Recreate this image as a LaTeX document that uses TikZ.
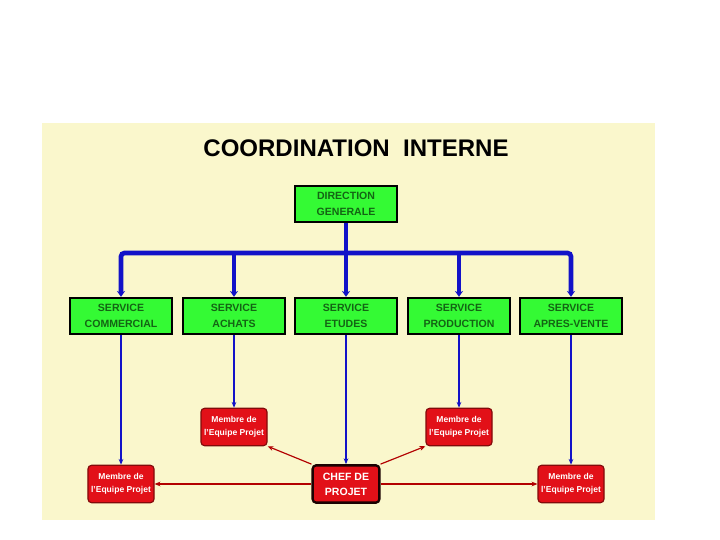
\documentclass[tikz,border=0pt]{standalone}
\usepackage{fontspec}
\setmainfont{Liberation Sans}
\usetikzlibrary{arrows.meta, positioning}
\definecolor{panelyellow}{RGB}{250,247,204}
\definecolor{servgreen}{RGB}{52,250,52}
\definecolor{servtext}{RGB}{20,100,20}
\definecolor{busblue}{RGB}{18,18,200}
\definecolor{teamred}{RGB}{226,16,24}
\definecolor{teamedge}{RGB}{130,10,10}

\begin{document}
\begin{tikzpicture}[x=0.03cm, y=-0.03cm,
  service/.style={draw=black, line width=1.5pt, fill=servgreen, text=servtext,
    minimum width=3.08cm, minimum height=1.1cm, align=center,
    font=\fontsize{9}{13.5}\selectfont\bfseries, inner sep=1pt},
  member/.style={draw=teamedge, line width=1pt, fill=teamred, text=white,
    rounded corners=3pt, minimum width=1.98cm, minimum height=1.12cm, align=center,
    font=\fontsize{7.3}{11.5}\selectfont\bfseries, inner sep=1pt},
  chefbox/.style={member, line width=2pt, draw=black!80!teamedge,
    minimum width=2.0cm, font=\fontsize{9}{13}\selectfont\bfseries},
  bus/.style={draw=busblue, line width=4pt},
  link/.style={draw=busblue, line width=0.9pt, -{Stealth[length=5pt,width=4pt]}},
  team/.style={draw=red!70!black, line width=1pt, -{Stealth[length=5pt,width=4pt]}}]
  \useasboundingbox (0,0) rectangle (720,540);
  \fill[panelyellow] (42,123) rectangle (655,520);
  \node[font=\fontsize{20.5}{22}\selectfont\bfseries] (title) at (356,148)
    {COORDINATION\ \ INTERNE};
  % direction et services
  \node[service] (dg) at (346,204) {DIRECTION\\GENERALE};
  \node[service] (com) at (121,316) {SERVICE\\COMMERCIAL};
  \node[service] (ach) at (234,316) {SERVICE\\ACHATS};
  \node[service] (etu) at (346,316) {SERVICE\\ETUDES};
  \node[service] (pro) at (459,316) {SERVICE\\PRODUCTION};
  \node[service] (apv) at (571,316) {SERVICE\\APRES-VENTE};
  % equipe projet
  \node[member] (mb2) at (234,427) {Membre de\\l'Equipe Projet};
  \node[member] (mb3) at (459,427) {Membre de\\l'Equipe Projet};
  \node[member] (mb1) at (121,484) {Membre de\\l'Equipe Projet};
  \node[member] (mb4) at (571,484) {Membre de\\l'Equipe Projet};
  \node[chefbox] (chef) at (346,484) {CHEF DE\\PROJET};
  % liaisons hierarchiques
  \coordinate (busL) at (121,253);
  \coordinate (busR) at (571,253);
  \draw[bus] (dg.south) -- (dg.south |- busL);
  \draw[bus, rounded corners=3pt, {Stealth[length=5pt,width=7pt]}-{Stealth[length=5pt,width=7pt]}]
    (com.north) -- (busL) -- (busR) -- (apv.north);
  \foreach \s in {ach, etu, pro}
    \draw[bus, -{Stealth[length=5pt,width=7pt]}] (\s.north |- busL) -- (\s.north);
  \draw[link] (com.south) -- (mb1.north);
  \draw[link] (ach.south) -- (mb2.north);
  \draw[link] (etu.south) -- (chef.north);
  \draw[link] (pro.south) -- (mb3.north);
  \draw[link] (apv.south) -- (mb4.north);
  % coordination par le chef de projet
  \draw[team] (chef.west) -- (mb1.east);
  \draw[team] (chef.north west) -- (mb2.south east);
  \draw[team] (chef.north east) -- (mb3.south west);
  \draw[team] (chef.east) -- (mb4.west);
\end{tikzpicture}
\end{document}
